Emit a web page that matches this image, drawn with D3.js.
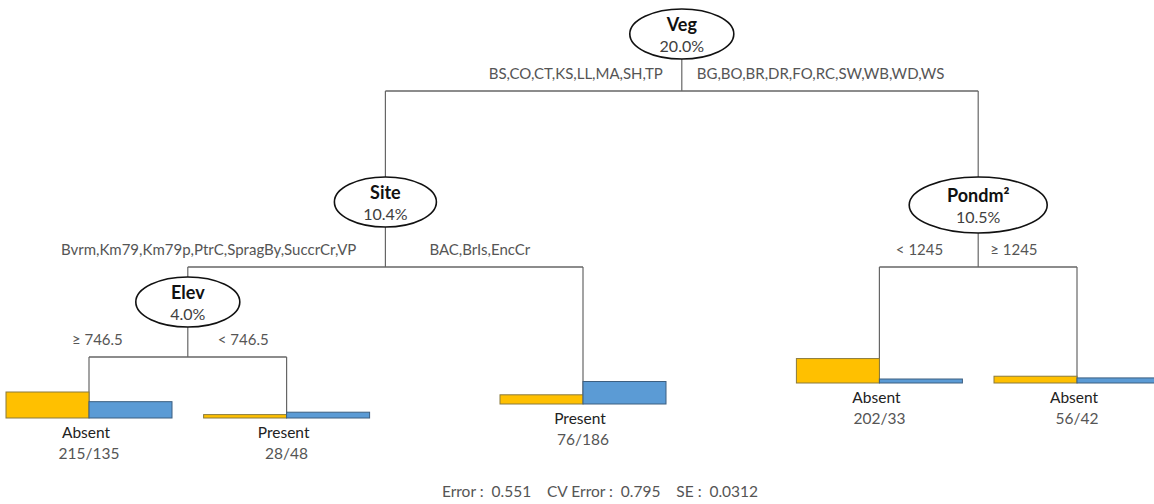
<!DOCTYPE html>
<html>
<head>
<meta charset="utf-8">
<script src="https://cdn.jsdelivr.net/npm/d3@7"></script>
<style>
 body { margin: 0; background: #fff; }
 text { font-family: Lato, "Open Sans", sans-serif; }
</style>
</head>
<body>
<div id="tree"></div>
<script>
// leaves, left to right
var leafClass = ["Absent", "Present", "Present", "Absent", "Absent"];
var absentN = [215, 28, 76, 202, 56];
var presentN = [135, 48, 186, 33, 42];

// split nodes
var nodeNames = ["Veg", "Site", "Elev", "Pondm\u00B2"];
var nodeErr = ["20.0%", "10.4%", "4.0%", "10.5%"];
var leftLabels = ["BS,CO,CT,KS,LL,MA,SH,TP", "Bvrm,Km79,Km79p,PtrC,SpragBy,SuccrCr,VP", "\u2265 746.5", "< 1245"];
var rightLabels = ["BG,BO,BR,DR,FO,RC,SW,WB,WD,WS", "BAC,BrIs,EncCr", "< 746.5", "\u2265 1245"];

var stats = ["Error :  0.551", "CV Error :  0.795", "SE :  0.0312"];

function treechart() {

 var width = 1154, height = 504;

 var svg = d3.select("#tree")
 .append("svg")
  .attr("width", width)
  .attr("height", height);

 // layout of the split nodes (ellipse centre, size, y of the split line)
 var nodeLayout = {
  "Veg":   {cy: 34, rx: 52, ry: 25, split: 91, lOff: -19, rOff: 15},
  "Site":  {cy: 202, rx: 51, ry: 25, split: 267, lOff: -29, rOff: 44},
  "Elev":  {cy: 302, rx: 52, ry: 25, split: 357, lOff: -65, rOff: 30},
  "Pondm\u00B2": {cy: 205, rx: 69, ry: 28, split: 267, lOff: -35, rOff: 12}
 };
 var leafBase = [418, 418, 404, 383, 383];
 var leafSlot = [0, 1, 2.5, 4, 5];

 function leaf(i) {
  return {leaf: i, cls: leafClass[i], a: absentN[i], p: presentN[i]};
 }
 function split(i, kids) {
  return {split: i, name: nodeNames[i], err: nodeErr[i], children: kids};
 }

 var root = d3.hierarchy(
  split(0, [
   split(1, [split(2, [leaf(0), leaf(1)]), leaf(2)]),
   split(3, [leaf(3), leaf(4)])
  ]));

 var x = d3.scaleLinear()
  .domain([0, 5])
  .range([89, 1077]);

 var h = d3.scaleLinear()
  .domain([0, 215])
  .range([0, 26]);

 var barW = 83;

 // x positions: leaves on their slot, splits in the middle of their children
 root.eachAfter(function(d) {
  if (d.children) d.x = d3.mean(d.children, function(c) { return c.x; });
  else d.x = x(leafSlot[d.data.leaf]);
 });
 root.each(function(d) {
  if (d.children) {
   var L = nodeLayout[d.data.name];
   d.cy = L.cy; d.L = L;
  } else {
   d.base = leafBase[d.data.leaf];
  }
 });

 var lineCol = "#666";
 var g = svg.append("g");

 // stems and split lines
 root.descendants().filter(function(d) { return d.children; }).forEach(function(d) {
  var L = d.L;
  g.append("line")
   .attr("x1", d.x).attr("x2", d.x)
   .attr("y1", d.cy + L.ry).attr("y2", L.split)
   .attr("stroke", lineCol).attr("stroke-width", 1.2);
  var xs = d.children.map(function(c) { return c.x; });
  g.append("line")
   .attr("x1", d3.min(xs)).attr("x2", d3.max(xs))
   .attr("y1", L.split).attr("y2", L.split)
   .attr("stroke", lineCol).attr("stroke-width", 1.4);
  d.children.forEach(function(c) {
   var yEnd = c.children ? c.cy - c.L.ry : c.base;
   g.append("line")
    .attr("x1", c.x).attr("x2", c.x)
    .attr("y1", L.split).attr("y2", yEnd)
    .attr("stroke", lineCol).attr("stroke-width", 1.2);
  });
  // split labels
  g.append("text")
   .attr("x", d.x + L.lOff).attr("y", L.split - 12)
   .attr("text-anchor", "end")
   .attr("font-size", 15).attr("fill", "#555")
   .text(leftLabels[d.data.split]);
  g.append("text")
   .attr("x", d.x + L.rOff).attr("y", L.split - 12)
   .attr("text-anchor", "start")
   .attr("font-size", 15).attr("fill", "#555")
   .text(rightLabels[d.data.split]);
 });

 // split node ellipses
 var nodes = g.selectAll("g.node")
  .data(root.descendants().filter(function(d) { return d.children; }))
  .enter().append("g")
  .attr("class", "node")
  .attr("transform", function(d) { return "translate(" + d.x + "," + d.cy + ")"; });

 nodes.append("ellipse")
  .attr("rx", function(d) { return d.L.rx; })
  .attr("ry", function(d) { return d.L.ry; })
  .attr("fill", "#fff")
  .attr("stroke", "#111")
  .attr("stroke-width", 1.6);

 nodes.append("text")
  .attr("y", -3)
  .attr("text-anchor", "middle")
  .attr("font-size", 18).attr("font-weight", "bold").attr("fill", "#111")
  .text(function(d) { return d.data.name; });

 nodes.append("text")
  .attr("y", 18)
  .attr("text-anchor", "middle")
  .attr("font-size", 16).attr("fill", "#404040")
  .text(function(d) { return d.data.err; });

 // leaves
 var leaves = g.selectAll("g.leaf")
  .data(root.leaves())
  .enter().append("g")
  .attr("class", "leaf")
  .attr("transform", function(d) { return "translate(" + d.x + "," + d.base + ")"; });

 leaves.append("rect")
  .attr("x", -barW)
  .attr("y", function(d) { return -h(d.data.a); })
  .attr("width", barW)
  .attr("height", function(d) { return h(d.data.a); })
  .attr("fill", "#FFC000")
  .attr("stroke", "#8a7a3c").attr("stroke-width", 1);

 leaves.append("rect")
  .attr("x", 0)
  .attr("y", function(d) { return -h(d.data.p); })
  .attr("width", barW)
  .attr("height", function(d) { return h(d.data.p); })
  .attr("fill", "#5B9BD5")
  .attr("stroke", "#3d5f80").attr("stroke-width", 1);

 leaves.append("text")
  .attr("x", -3).attr("y", 20)
  .attr("text-anchor", "middle")
  .attr("font-size", 15.5).attr("fill", "#222")
  .text(function(d) { return d.data.cls; });

 leaves.append("text")
  .attr("x", 0).attr("y", 41)
  .attr("text-anchor", "middle")
  .attr("font-size", 15.5).attr("fill", "#555")
  .text(function(d) { return d.data.a + "/" + d.data.p; });

 // footer with fit statistics
 svg.append("text")
  .attr("x", 600).attr("y", 497)
  .attr("text-anchor", "middle")
  .attr("font-size", 15.5).attr("fill", "#555")
  .attr("xml:space", "preserve")
  .style("white-space", "pre")
  .text(stats.join("    "));
}
treechart()
</script>
</body>
</html>
